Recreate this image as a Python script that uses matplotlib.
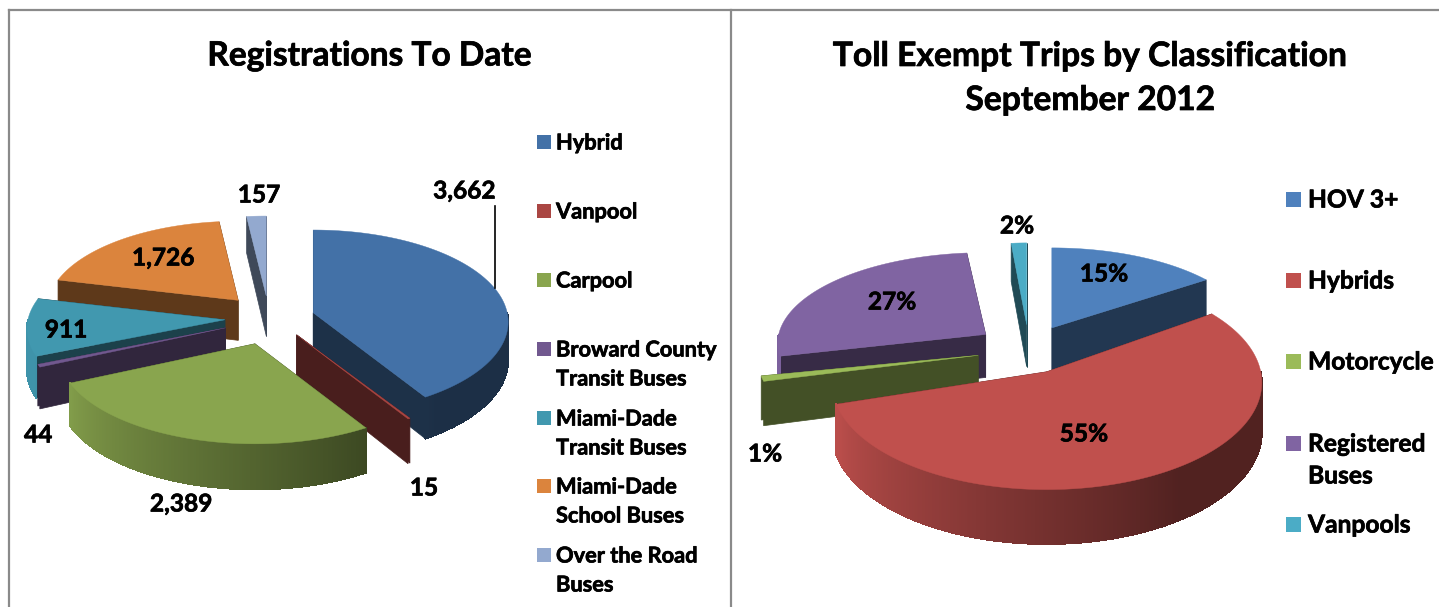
import numpy as np
import matplotlib
matplotlib.use('Agg')
import matplotlib.pyplot as plt
import matplotlib.patheffects as pe
from matplotlib.collections import PolyCollection
from matplotlib.colors import to_rgb

# left pie data
reg_labels = ['Hybrid', 'Vanpool', 'Carpool', 'Broward County\nTransit Buses',
              'Miami-Dade\nTransit Buses', 'Miami-Dade\nSchool Buses', 'Over the Road\nBuses']
reg_values = [3662, 15, 2389, 44, 911, 1726, 157]
reg_colors = ['#4371A7', '#AA4643', '#89A54E', '#71588F', '#4198AF', '#DB843D', '#93A9CF']

# right pie data (shares estimated to a tenth, labels show them rounded)
toll_labels = ['HOV 3+', 'Hybrids', 'Motorcycle', 'Registered\nBuses', 'Vanpools']
toll_values = [15.2, 55.0, 1.0, 27.2, 1.6]
toll_colors = ['#4F81BD', '#C0504D', '#9BBB59', '#8064A2', '#4BACC6']

K = 0.1  # perspective strength
HEAVY = [pe.withStroke(linewidth=0.5, foreground='black')]


def rim_shade(theta):
    return np.clip(0.42 + 0.55 * (theta - 145) / 105, 0.42, 0.97)


def project(apex, theta, rx, ry):
    t = np.radians(theta)
    u, v = np.sin(t), -np.cos(t)
    w = 1 / (1 - K * v)
    return apex[0] + rx * u * w, apex[1] + ry * v * w, w


def draw_slice(ax, center, start, end, color, explode, nudge, rx, ry, depth, z):
    rgb = np.array(to_rgb(color))
    mid = np.radians((start + end) / 2)
    apex = (center[0] + nudge + explode * rx * np.sin(mid), center[1] - explode * ry * np.cos(mid))

    thetas = np.linspace(start, end, max(int(end - start) * 2, 4))
    xs, ys, ws = project(apex, thetas, rx, ry)

    # cut faces
    dark = rgb * 0.43
    for i in (0, -1):
        wall = [apex, (xs[i], ys[i]), (xs[i], ys[i] + depth * ws[i]), (apex[0], apex[1] + depth)]
        ax.add_patch(plt.Polygon(wall, closed=True, fc=dark, ec=dark, lw=0.5, zorder=z))

    # outer rim, only the part that faces the viewer (very thin slices just show the cut face)
    quads, quad_colors = [], []
    for i in range(len(thetas) - 1):
        if end - start > 5 and 90 <= (thetas[i] + thetas[i + 1]) / 2 <= 270:
            quads.append([(xs[i], ys[i]), (xs[i + 1], ys[i + 1]),
                          (xs[i + 1], ys[i + 1] + depth * ws[i + 1]), (xs[i], ys[i] + depth * ws[i])])
            quad_colors.append(rgb * rim_shade(thetas[i]))
    if quads:
        ax.add_collection(PolyCollection(quads, facecolors=quad_colors, edgecolors=quad_colors,
                                         linewidths=0.6, antialiaseds=False, zorder=z + 0.1))

    # top face
    top = [apex] + list(zip(xs, ys))
    ax.add_patch(plt.Polygon(top, closed=True, fc=rgb, ec=rgb, lw=0.3, zorder=z + 0.2))


def draw_pie(ax, center, values, colors, explode, nudge, rx, ry, depth, order):
    edges = np.concatenate([[0], np.cumsum(values)]) / np.sum(values) * 360
    for z, i in enumerate(order):
        draw_slice(ax, center, edges[i], edges[i + 1], colors[i], explode[i], nudge[i],
                   rx[i], ry[i], depth[i], 2 + z)


def bold_text(ax, x, y, s, size, ha='center'):
    ax.text(x, y, s, fontsize=size, fontweight='bold', ha=ha, va='center', zorder=30, path_effects=HEAVY)


def draw_legend(ax, labels, colors, x_box, box, x_text, ys, step, size):
    for label, color, y in zip(labels, colors, ys):
        ax.add_patch(plt.Rectangle((x_box, y - box / 2), box, box, fc=color, ec='none', zorder=20))
        for n, line in enumerate(label.split('\n')):
            bold_text(ax, x_text, y + 1 + n * step, line, size, ha='left')


def main():
    plt.rcParams['font.family'] = ['Lato', 'DejaVu Sans']

    fig = plt.figure(figsize=(14.39, 6.07), dpi=100)
    ax = fig.add_axes([0, 0, 1, 1])
    ax.set_xlim(0, 1439)
    ax.set_ylim(607, 0)
    ax.axis('off')

    # panel frame
    ax.plot([9, 9], [607, 10], color='#8A8A8A', lw=1.6)
    ax.plot([9, 1439], [10, 10], color='#8A8A8A', lw=1.6)
    ax.plot([731, 731], [10, 607], color='#8A8A8A', lw=1.6)

    # left pie
    draw_pie(ax, (274, 318), reg_values, reg_colors,
             explode=[0.21, 0.22, 0.30, 0.27, 0.25, 0.27, 0.25],
             nudge=[0, 0, -2, 0, 0, -2, -5],
             rx=[194, 196, 195, 196, 197, 190, 196], ry=[91, 90, 90, 90, 90, 87, 88],
             depth=[38, 41, 41, 40, 40, 40, 40],
             order=[6, 5, 4, 3, 0, 1, 2])

    # right pie
    draw_pie(ax, (1030, 349), toll_values, toll_colors,
             explode=[0.27, 0.24, 0.28, 0.28, 0.27],
             nudge=[-3, -6, 7, 3, -1],
             rx=[200, 214, 218, 207, 170], ry=[88, 106, 85, 90, 90],
             depth=[42, 49, 43, 43, 42],
             order=[4, 0, 3, 2, 1])

    # titles
    bold_text(ax, 370, 56, 'Registrations To Date', 24.1)
    bold_text(ax, 1090, 56, 'Toll Exempt Trips by Classification', 24.2)
    bold_text(ax, 1090, 100, 'September 2012', 24.2)

    # data labels
    reg_pos = [(464, 191), (424, 488), (181, 504), (38, 435), (66, 330), (163, 258), (259, 195)]
    for v, (x, y) in zip(reg_values, reg_pos):
        bold_text(ax, x, y, f'{v:,}', 17.6)
    ax.plot([495, 495], [206, 288], color='black', lw=1.2, zorder=30)

    toll_pos = [(1104, 274), (1084, 434), (765, 454), (892, 302), (1017, 226)]
    for v, (x, y) in zip(toll_values, toll_pos):
        bold_text(ax, x, y, f'{v:.0f}%', 17.6)

    # legends
    draw_legend(ax, reg_labels, reg_colors, 537, 14, 556,
                [142, 211, 280, 349, 418, 486, 555], 29, 15.7)
    draw_legend(ax, toll_labels, toll_colors, 1286, 15, 1308,
                [199, 280, 361, 443, 524], 32, 17.7)

    fig.savefig('out.png', dpi=100)
    plt.close(fig)


if __name__ == "__main__":
    main()
